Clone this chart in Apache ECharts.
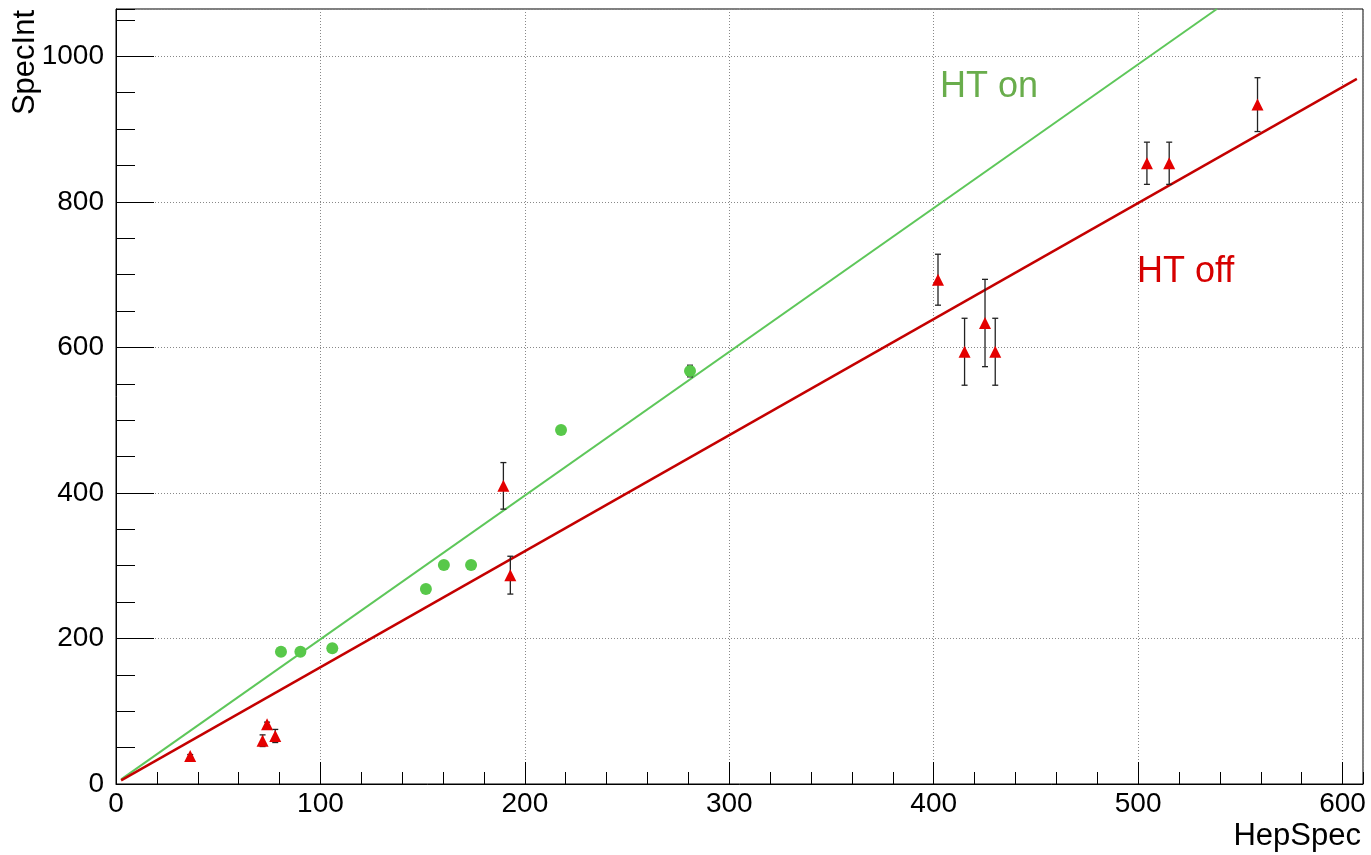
<!DOCTYPE html>
<html>
<head>
<meta charset="utf-8">
<script src="https://cdn.jsdelivr.net/npm/echarts@6/dist/echarts.min.js"></script>
<style>
html,body{margin:0;padding:0;background:#fff;}
#chart{width:1371px;height:855px;}
</style>
</head>
<body>
<div id="chart"></div>
<script>
// ---- data ----
const htOnX   = [80.7, 90.2, 105.8, 151.6, 160.4, 173.7, 217.7, 280.8];
const htOnY   = [181.8, 181.8, 186.5, 268, 301, 301, 486.5, 567.5];
const htOnErr = [0, 0, 0, 0, 0, 0, 0, 8];

const htOffX   = [36.3, 71.7, 73.9, 77.9, 189.5, 192.9, 402.1, 415.1, 425.1, 430.1, 504.3, 515.2, 558.4];
const htOffY   = [38.5, 59.5, 82, 66, 409.7, 287, 693, 594, 633.5, 594, 853, 853, 933.6];
const htOffErr = [2, 8, 3, 9, 32, 26, 35, 46, 60, 46, 29, 29, 37];

// fitted lines: endpoints
const fitOnX  = [2.5, 538.5];
const fitOnY  = [6.4, 1065];
const fitOffX = [2.5, 607];
const fitOffY = [5, 969];

const xTicks = [0, 100, 200, 300, 400, 500, 600];
const yTicks = [0, 200, 400, 600, 800, 1000];

const X_MAX = 610, Y_MAX = 1065;
const FONT = '"Liberation Sans", Arial, Helvetica, sans-serif';

function pairs(xs, ys) { return xs.map((x, i) => [x, ys[i]]); }
function errData(xs, ys, es) { return xs.map((x, i) => [x, ys[i], es[i]]); }

function errRender(params, api) {
  const x = api.value(0), y = api.value(1), e = api.value(2);
  if (!(e > 0)) return null;
  const lo = api.coord([x, y - e]);
  const hi = api.coord([x, y + e]);
  const cw = 3;
  const st = { stroke: '#222', lineWidth: 1.3 };
  return {
    type: 'group',
    children: [
      { type: 'line', shape: { x1: lo[0], y1: lo[1], x2: hi[0], y2: hi[1] }, style: st },
      { type: 'line', shape: { x1: lo[0] - cw, y1: lo[1], x2: lo[0] + cw, y2: lo[1] }, style: st },
      { type: 'line', shape: { x1: hi[0] - cw, y1: hi[1], x2: hi[0] + cw, y2: hi[1] }, style: st }
    ]
  };
}

const chart = echarts.init(document.getElementById('chart'), null, { renderer: 'canvas' });

const option = {
  animation: false,
  backgroundColor: '#fff',
  grid: { left: 116, top: 9, width: 1247, height: 775, show: true, borderColor: '#000', borderWidth: 1, backgroundColor: 'transparent' },
  xAxis: [
    {
      type: 'value', min: 0, max: X_MAX, interval: 100, position: 'bottom',
      axisLine: { show: true, onZero: false, lineStyle: { color: '#000', width: 1 } },
      axisTick: { show: true, inside: true, length: 22, lineStyle: { color: '#000', width: 1 } },
      axisLabel: { show: true, margin: 6, fontSize: 28, color: '#000', fontFamily: FONT, showMaxLabel: false,
        formatter: v => (xTicks.indexOf(v) >= 0 ? String(v) : '') },
      splitLine: { show: true, lineStyle: { color: '#888', type: [1, 2], width: 1 } }
    },
    {
      type: 'value', min: 0, max: X_MAX, interval: 20, position: 'bottom',
      axisLine: { show: false, onZero: false },
      axisTick: { show: true, inside: true, length: 12, lineStyle: { color: '#000', width: 1 } },
      axisLabel: { show: false },
      splitLine: { show: false }
    }
  ],
  yAxis: [
    {
      type: 'value', min: 0, max: Y_MAX, interval: 200, position: 'left',
      axisLine: { show: true, onZero: false, lineStyle: { color: '#000', width: 1 } },
      axisTick: { show: true, inside: true, length: 38, lineStyle: { color: '#000', width: 1 } },
      axisLabel: { show: true, margin: 12, fontSize: 28, color: '#000', fontFamily: FONT, showMaxLabel: false,
        formatter: v => (yTicks.indexOf(v) >= 0 ? String(v) : '') },
      splitLine: { show: true, lineStyle: { color: '#888', type: [1, 2], width: 1 } }
    },
    {
      type: 'value', min: 0, max: Y_MAX, interval: 50, position: 'left',
      axisLine: { show: false, onZero: false },
      axisTick: { show: true, inside: true, length: 19, lineStyle: { color: '#000', width: 1 } },
      axisLabel: { show: false },
      splitLine: { show: false }
    }
  ],
  series: [
    {
      name: 'fit HT on', type: 'line', xAxisIndex: 0, yAxisIndex: 0, clip: true,
      data: pairs(fitOnX, fitOnY), showSymbol: false, symbol: 'none',
      lineStyle: { color: '#5ec75a', width: 2 }, z: 3
    },
    {
      name: 'fit HT off', type: 'line', xAxisIndex: 0, yAxisIndex: 0, clip: true,
      data: pairs(fitOffX, fitOffY), showSymbol: false, symbol: 'none',
      lineStyle: { color: '#c40000', width: 2.4 }, z: 3
    },
    {
      name: 'err on', type: 'custom', xAxisIndex: 0, yAxisIndex: 0,
      data: errData(htOnX, htOnY, htOnErr), renderItem: errRender, z: 4
    },
    {
      name: 'err off', type: 'custom', xAxisIndex: 0, yAxisIndex: 0,
      data: errData(htOffX, htOffY, htOffErr), renderItem: errRender, z: 4
    },
    {
      name: 'HT on', type: 'scatter', xAxisIndex: 0, yAxisIndex: 0,
      data: pairs(htOnX, htOnY), symbol: 'circle', symbolSize: 12,
      itemStyle: { color: '#58c84a', opacity: 1 }, z: 10
    },
    {
      name: 'HT off', type: 'scatter', xAxisIndex: 0, yAxisIndex: 0,
      data: pairs(htOffX, htOffY), symbol: 'triangle', symbolSize: [12, 12],
      itemStyle: { color: '#e40000', opacity: 1 }, z: 10
    }
  ],
  graphic: [
    { type: 'text', x: 940, y: 87, style: { text: 'HT on', fontSize: 36, fontFamily: FONT, fill: '#69ad4c', textAlign: 'left', textVerticalAlign: 'middle' } },
    { type: 'text', x: 1137, y: 272.5, style: { text: 'HT off', fontSize: 36, fontFamily: FONT, fill: '#d60000', textAlign: 'left', textVerticalAlign: 'middle' } },
    { type: 'text', x: 1361, y: 836, style: { text: 'HepSpec', fontSize: 31, fontFamily: FONT, fill: '#000', textAlign: 'right', textVerticalAlign: 'middle' } },
    { type: 'text', x: 25, y: 10, rotation: Math.PI / 2, style: { text: 'SpecInt', fontSize: 31, fontFamily: FONT, fill: '#000', textAlign: 'right', textVerticalAlign: 'middle' } }
  ]
};

chart.setOption(option);
</script>
</body>
</html>
